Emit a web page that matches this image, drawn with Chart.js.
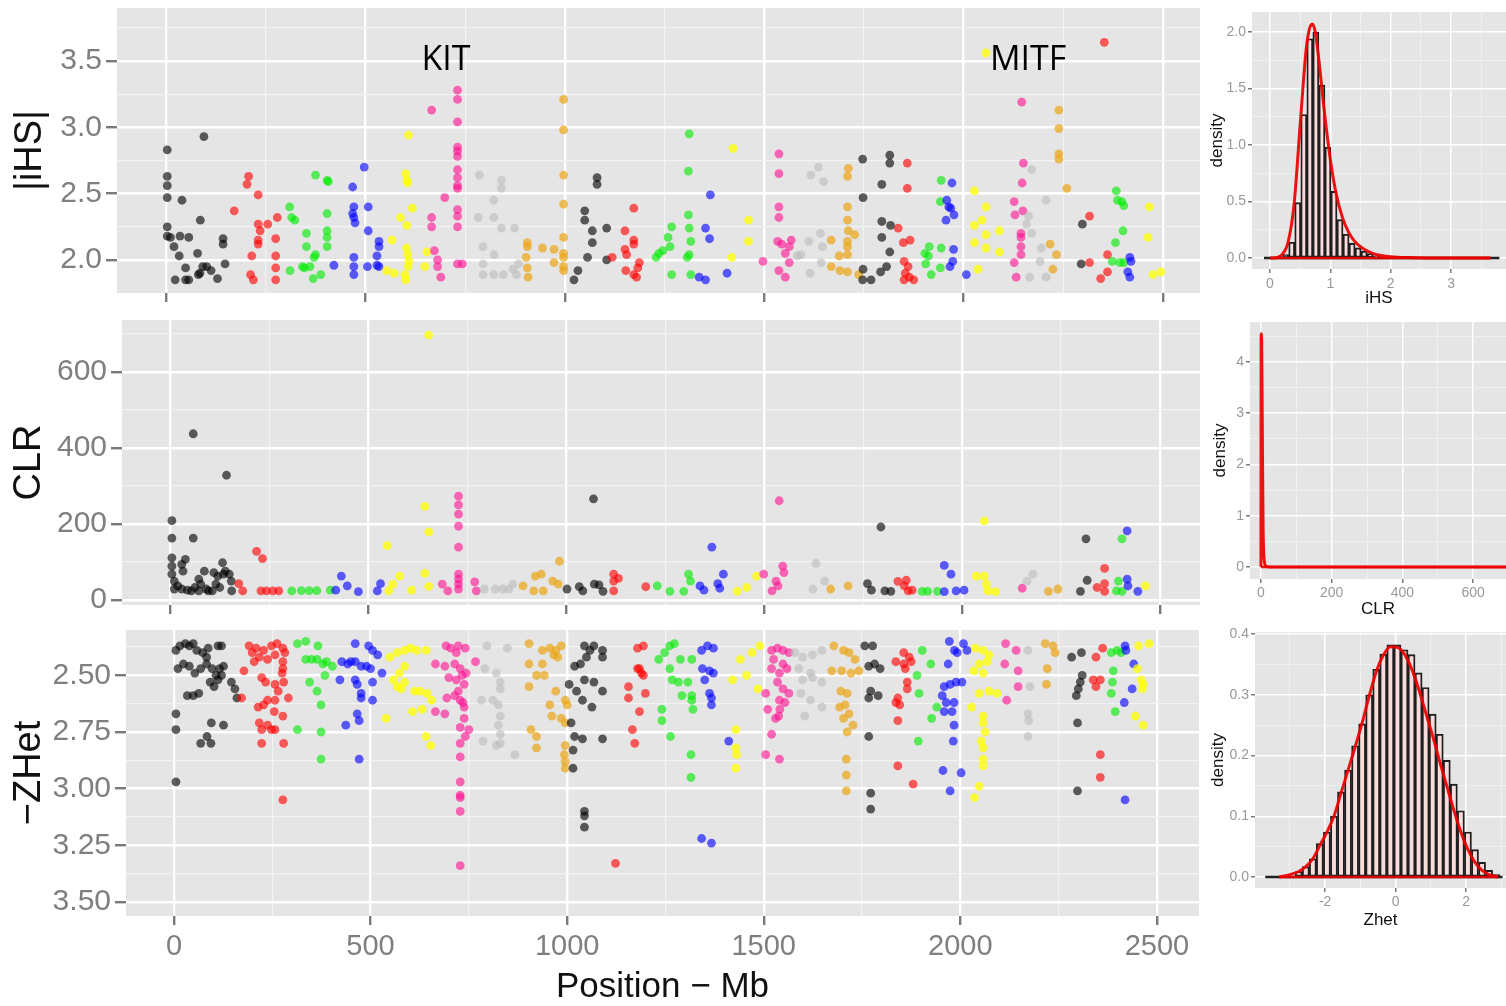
<!DOCTYPE html>
<html>
<head>
<meta charset="utf-8">
<script src="https://cdn.jsdelivr.net/npm/chart.js@4.4.0/dist/chart.umd.min.js"></script>
<style>
  body { margin: 0; background: #fff; width: 1506px; height: 1006px; overflow: hidden; position: relative; }
  canvas { position: absolute; }
</style>
</head>
<body>
<canvas id="ihsChart" width="1210" height="312" style="left:0;top:0"></canvas>
<canvas id="clrChart" width="1210" height="308" style="left:0;top:312px"></canvas>
<canvas id="zhetChart" width="1210" height="386" style="left:0;top:620px"></canvas>
<canvas id="ihsHist" width="301" height="312" style="left:1205px;top:0"></canvas>
<canvas id="clrHist" width="301" height="308" style="left:1205px;top:312px"></canvas>
<canvas id="zhetHist" width="301" height="320" style="left:1205px;top:620px"></canvas>
<script>
// tick values
var posTicks = [0, 500, 1000, 1500, 2000, 2500];
var ihsTicks = [2.0, 2.5, 3.0, 3.5];
var clrTicks = [0, 200, 400, 600];
var zhetTicks = [2.5, 2.75, 3.0, 3.25, 3.5];
var ihsHistXTicks = [0, 1, 2, 3], ihsHistYTicks = [0, 0.5, 1, 1.5, 2];
var clrHistXTicks = [0, 200, 400, 600], clrHistYTicks = [0, 1, 2, 3, 4];
var zhetHistXTicks = [-2, 0, 2], zhetHistYTicks = [0, 0.1, 0.2, 0.3, 0.4];

// gene labels on the |iHS| panel
var geneNames = ['KIT', 'MITF'];
var genePos = [702, 2162];
var geneVal = [3.43, 3.43];

// |iHS| outliers, one list per chromosome: [position Mb, value]
var ihs = [
  [[3,2.83],[3,2.63],[3,2.56],[3,2.47],[40,2.45],[95,2.93],[3,2.25],[3,2.18],[11,2.17],[20,2.10],[33,2.03],[35,2.18],[57,2.17],[86,2.30],[79,2.05],[49,1.94],[23,1.85],[49,1.85],[57,1.85],[81,1.89],[85,1.90],[92,1.95],[102,1.95],[113,1.92],[129,1.86],[143,2.16],[143,2.12],[148,1.97]],
  [[171,2.37],[207,2.63],[203,2.57],[231,2.49],[231,2.27],[236,2.22],[231,2.15],[231,2.12],[255,2.27],[279,2.32],[215,2.03],[212,1.89],[219,1.85],[275,2.16],[275,2.03],[275,1.94],[275,1.85]],
  [[310,2.40],[315,2.32],[323,2.30],[375,2.64],[404,2.60],[407,2.59],[352,2.20],[352,2.10],[375,2.04],[371,2.02],[361,1.95],[347,1.94],[342,1.95],[311,1.92],[369,1.86],[388,1.89],[404,2.35],[404,2.22],[404,2.17],[404,2.10]],
  [[421,1.96],[468,2.55],[471,2.40],[468,2.35],[471,2.32],[474,2.28],[497,2.70],[507,2.40],[507,2.22],[534,2.14],[534,2.10],[529,2.03],[529,1.96],[534,1.95],[471,2.02],[471,1.95],[471,1.89],[505,1.95]],
  [[608,2.94],[601,2.65],[604,2.60],[606,2.58],[618,2.39],[588,2.32],[604,2.26],[567,2.15],[603,2.09],[606,2.04],[609,1.99],[607,1.95],[553,1.92],[572,1.90],[599,1.89],[601,1.85],[649,1.95],[654,2.06]],
  [[666,3.13],[731,3.28],[731,3.21],[731,3.04],[731,2.85],[731,2.82],[731,2.78],[731,2.68],[731,2.62],[731,2.56],[731,2.54],[731,2.38],[731,2.33],[731,2.25],[699,2.47],[666,2.32],[666,2.25],[673,2.07],[681,2.00],[681,1.95],[689,1.87],[731,1.97],[743,1.97]],
  [[786,2.64],[822,2.45],[841,2.60],[841,2.54],[783,2.32],[822,2.32],[841,2.24],[874,2.24],[795,2.10],[823,2.04],[795,1.97],[795,1.89],[822,1.89],[846,1.89],[870,1.93],[884,1.97],[879,1.89]],
  [[997,3.21],[997,2.98],[997,2.64],[997,2.42],[997,2.17],[906,2.13],[906,2.10],[903,2.02],[906,1.94],[908,1.87],[944,2.09],[973,2.08],[973,1.98],[997,2.05],[997,2.02],[997,1.95],[997,1.92]],
  [[1050,2.37],[1050,2.30],[1069,2.22],[1069,2.13],[1057,2.02],[1033,1.92],[1023,1.85],[1081,2.62],[1081,2.57],[1105,2.24],[1105,2.00]],
  [[1173,2.39],[1151,2.22],[1173,2.15],[1173,2.12],[1151,2.08],[1155,2.04],[1119,2.02],[1187,1.98],[1183,1.94],[1153,1.92],[1173,1.89],[1180,1.87]],
  [[1312,2.95],[1310,2.67],[1310,2.34],[1268,2.25],[1259,2.17],[1264,2.10],[1246,2.07],[1236,2.05],[1229,2.02],[1312,2.24],[1316,2.14],[1312,2.04],[1307,2.02],[1268,1.89],[1316,1.89]],
  [[1365,2.49],[1353,2.24],[1363,2.16],[1337,1.87],[1353,1.85],[1407,1.90]],
  [[1422,2.84],[1461,2.30],[1461,2.14],[1419,2.02]],
  [[1537,2.80],[1537,2.65],[1537,2.40],[1537,2.32],[1534,2.14],[1544,2.12],[1553,2.05],[1568,2.15],[1563,2.10],[1497,1.99],[1563,1.98],[1537,1.92],[1553,1.87]],
  [[1636,2.70],[1617,2.64],[1649,2.59],[1641,2.20],[1612,2.14],[1646,2.10],[1592,2.04],[1583,2.03],[1643,1.98],[1615,1.90]],
  [[1711,2.69],[1709,2.63],[1709,2.40],[1709,2.30],[1711,2.22],[1727,2.19],[1709,2.14],[1709,2.10],[1709,2.04],[1688,2.03],[1668,2.15],[1668,1.95],[1690,1.92],[1709,1.91],[1737,1.89]],
  [[1747,2.76],[1815,2.79],[1815,2.73],[1795,2.57],[1748,2.47],[1795,2.29],[1817,2.26],[1795,2.17],[1815,2.06],[1748,1.93],[1747,1.85],[1768,1.85],[1792,1.91],[1807,1.95]],
  [[1859,2.73],[1859,2.54],[1836,2.24],[1849,2.13],[1866,2.15],[1851,1.99],[1861,1.95],[1854,1.90],[1864,1.87],[1875,1.85],[1851,1.85]],
  [[1944,2.60],[1942,2.44],[1914,2.10],[1903,2.05],[1912,2.03],[1944,2.09],[1905,1.97],[1919,1.89],[1942,1.94]],
  [[1971,2.58],[1958,2.45],[1963,2.40],[1968,2.39],[1976,2.34],[1956,2.30],[1975,2.08],[1973,1.99],[1966,1.95],[2007,1.89]],
  [[2056,3.56],[2027,2.52],[2056,2.40],[2046,2.30],[2027,2.26],[2090,2.22],[2056,2.19],[2027,2.13],[2056,2.09],[2036,1.93],[2090,2.06]],
  [[2146,3.19],[2150,2.73],[2147,2.58],[2127,2.44],[2149,2.37],[2129,2.34],[2144,2.20],[2144,2.17],[2144,2.10],[2144,2.04],[2127,1.98],[2132,1.87]],
  [[2171,2.68],[2207,2.45],[2163,2.33],[2158,2.27],[2171,2.20],[2195,2.09],[2192,1.99],[2166,1.87],[2207,1.87]],
  [[2239,3.13],[2239,2.99],[2239,2.80],[2239,2.76],[2259,2.54],[2217,2.12],[2233,2.04],[2224,1.93]],
  [[2298,2.27],[2295,1.97]],
  [[2353,3.64],[2316,2.33],[2361,2.04],[2316,1.98],[2361,1.91],[2344,1.86]],
  [[2383,2.52],[2386,2.45],[2397,2.44],[2402,2.41],[2400,2.22],[2381,2.13],[2373,1.99],[2392,1.98],[2402,1.98]],
  [[2417,2.02],[2420,1.99],[2412,1.91],[2417,1.87]],
  [[2466,2.40],[2463,2.17],[2475,1.89],[2495,1.91]]
];

// CLR outliers per chromosome
var clr = [
  [[58,437],[142,328],[4,209],[4,163],[58,163],[4,111],[4,89],[4,68],[10,50],[29,94],[38,107],[32,76],[19,37],[29,29],[43,26],[53,24],[62,33],[72,55],[86,76],[77,42],[91,29],[106,24],[115,42],[125,33],[134,68],[139,76],[149,68],[154,50],[120,63],[110,72],[132,98],[155,24],[10,29],[72,24],[96,24]],
  [[218,128],[233,109],[173,43],[183,24],[229,24],[243,24],[259,24],[274,24]],
  [[307,24],[331,25],[351,25],[370,25],[404,26]],
  [[432,63],[447,37],[418,26],[475,22],[523,24],[531,43]],
  [[653,696],[643,246],[653,179],[548,143],[643,70],[579,63],[562,42],[610,26],[552,24],[653,36]],
  [[728,273],[728,250],[728,226],[728,194],[728,139],[728,68],[728,55],[728,42],[728,29],[687,42],[701,24],[769,48],[773,24]],
  [[793,29],[821,29],[840,29],[865,42],[855,29]],
  [[983,102],[922,63],[937,68],[918,24],[942,24],[891,37],[966,50],[980,42]],
  [[1069,266],[1002,29],[1033,35],[1042,24],[1071,42],[1083,40],[1093,23]],
  [[1120,68],[1120,50],[1120,24],[1132,57],[1201,35]],
  [[1230,37],[1262,23],[1297,23],[1309,68],[1314,50]],
  [[1368,139],[1338,37],[1348,26],[1383,43],[1397,68],[1388,31]],
  [[1432,23],[1456,33],[1481,63]],
  [[1538,261],[1499,68],[1547,89],[1550,72],[1530,50],[1520,24],[1535,37]],
  [[1631,96],[1653,50],[1623,29]],
  [[1668,29],[1712,37]],
  [[1795,192],[1761,43],[1771,26],[1805,24],[1820,23]],
  [[1838,49],[1859,52],[1864,24],[1874,26],[1854,37]],
  [[1899,23],[1913,23],[1938,23]],
  [[1955,91],[1972,68],[1955,22],[1985,24],[2005,26]],
  [[2056,208],[2036,63],[2056,63],[2061,42],[2066,24],[2085,22]],
  [[2152,31]],
  [[2164,50],[2179,68]],
  [[2218,23],[2242,29]],
  [[2313,161],[2316,52],[2299,23]],
  [[2360,83],[2341,33],[2360,43],[2360,23]],
  [[2404,161],[2395,50],[2404,23],[2390,24]],
  [[2417,182],[2417,55],[2419,37],[2444,23]],
  [[2463,37]]
];

// -ZHet outliers per chromosome
var zhet = [
  [[5,2.39],[15,2.37],[29,2.36],[39,2.37],[49,2.36],[58,2.39],[73,2.40],[83,2.42],[87,2.38],[112,2.37],[121,2.37],[10,2.47],[24,2.45],[39,2.46],[53,2.49],[68,2.47],[83,2.45],[97,2.47],[107,2.50],[116,2.47],[126,2.46],[92,2.53],[102,2.55],[112,2.52],[121,2.50],[146,2.53],[155,2.56],[160,2.60],[34,2.59],[49,2.59],[63,2.58],[5,2.67],[5,2.74],[95,2.71],[126,2.72],[68,2.80],[84,2.77],[94,2.80],[5,2.97]],
  [[191,2.37],[209,2.38],[228,2.39],[248,2.37],[262,2.36],[277,2.38],[282,2.40],[199,2.40],[217,2.42],[238,2.43],[257,2.41],[277,2.44],[277,2.47],[178,2.48],[204,2.44],[223,2.51],[233,2.53],[257,2.54],[275,2.49],[279,2.53],[291,2.60],[265,2.57],[257,2.61],[238,2.61],[228,2.63],[214,2.64],[172,2.60],[255,2.66],[277,2.68],[217,2.71],[238,2.72],[223,2.74],[248,2.74],[257,2.74],[223,2.80],[279,2.80],[277,3.05]],
  [[314,2.36],[335,2.35],[366,2.37],[335,2.43],[350,2.43],[364,2.43],[379,2.45],[388,2.44],[345,2.53],[384,2.50],[364,2.57],[374,2.63],[314,2.74],[374,2.75],[374,2.87],[403,2.46]],
  [[461,2.36],[495,2.37],[505,2.39],[518,2.41],[450,2.44],[461,2.44],[476,2.46],[490,2.46],[500,2.47],[427,2.44],[442,2.45],[422,2.52],[461,2.52],[466,2.54],[505,2.53],[529,2.49],[476,2.58],[476,2.60],[505,2.61],[466,2.67],[471,2.70],[437,2.72],[471,2.87]],
  [[549,2.42],[568,2.40],[587,2.39],[602,2.38],[617,2.39],[641,2.39],[558,2.52],[568,2.55],[578,2.56],[587,2.53],[612,2.57],[626,2.57],[644,2.58],[573,2.49],[587,2.46],[539,2.69],[607,2.66],[631,2.65],[641,2.77],[653,2.81],[655,2.61]],
  [[692,2.37],[704,2.38],[723,2.37],[741,2.38],[718,2.40],[665,2.45],[689,2.46],[714,2.45],[728,2.47],[733,2.50],[743,2.49],[699,2.51],[718,2.52],[738,2.54],[694,2.60],[714,2.59],[728,2.61],[735,2.62],[738,2.64],[738,2.69],[665,2.66],[689,2.67],[723,2.57],[767,2.44],[728,2.73],[750,2.74],[728,2.80],[728,2.86],[728,2.97],[728,3.03],[728,3.04],[728,3.10],[728,3.34],[741,2.77]],
  [[796,2.37],[848,2.38],[791,2.47],[820,2.49],[830,2.53],[811,2.61],[830,2.56],[825,2.63],[830,2.68],[825,2.72],[830,2.76],[786,2.79],[820,2.81],[830,2.80],[867,2.85],[782,2.61]],
  [[903,2.36],[937,2.39],[956,2.38],[971,2.39],[985,2.37],[903,2.45],[937,2.45],[966,2.41],[976,2.42],[922,2.50],[942,2.50],[903,2.55],[971,2.57],[995,2.61],[956,2.63],[961,2.68],[985,2.69],[908,2.74],[922,2.77],[995,2.71],[995,2.81],[993,2.85],[995,2.88],[995,2.91],[922,2.82],[1000,2.63]],
  [[1044,2.37],[1058,2.39],[1049,2.42],[1068,2.37],[1034,2.45],[1019,2.46],[1044,2.52],[1068,2.53],[1005,2.54],[1024,2.57],[1039,2.61],[1063,2.64],[1010,2.71],[1019,2.77],[1039,2.78],[1015,2.83],[1015,2.91],[1044,3.10],[1044,3.12],[1044,3.17],[1090,2.39],[1090,2.42],[1090,2.57],[1090,2.78]],
  [[1179,2.38],[1194,2.37],[1179,2.47],[1184,2.47],[1189,2.49],[1194,2.50],[1156,2.55],[1156,2.60],[1199,2.58],[1184,2.66],[1166,2.74],[1172,2.80],[1123,3.33]],
  [[1233,2.43],[1248,2.40],[1261,2.37],[1273,2.36],[1261,2.47],[1267,2.52],[1283,2.53],[1307,2.53],[1292,2.59],[1317,2.59],[1288,2.43],[1317,2.43],[1241,2.65],[1241,2.70],[1263,2.77],[1317,2.61],[1320,2.65],[1315,2.85],[1315,2.95]],
  [[1342,2.39],[1357,2.37],[1372,2.38],[1344,2.47],[1362,2.48],[1372,2.49],[1350,2.52],[1362,2.58],[1367,2.60],[1367,2.63],[1411,2.79],[1342,3.22],[1367,3.24]],
  [[1441,2.43],[1470,2.40],[1490,2.37],[1421,2.52],[1456,2.50],[1485,2.56],[1429,2.74],[1429,2.82],[1431,2.85],[1429,2.91]],
  [[1520,2.39],[1535,2.38],[1549,2.39],[1564,2.40],[1525,2.43],[1549,2.45],[1520,2.47],[1540,2.49],[1559,2.47],[1535,2.53],[1549,2.56],[1564,2.58],[1505,2.58],[1540,2.61],[1554,2.62],[1541,2.65],[1538,2.68],[1510,2.65],[1520,2.76],[1505,2.85],[1540,2.87],[1530,2.69]],
  [[1579,2.40],[1599,2.42],[1624,2.41],[1648,2.39],[1589,2.47],[1619,2.49],[1599,2.52],[1624,2.51],[1648,2.53],[1594,2.58],[1619,2.61],[1648,2.64],[1604,2.68]],
  [[1678,2.37],[1703,2.39],[1717,2.40],[1732,2.43],[1673,2.48],[1698,2.48],[1722,2.49],[1742,2.48],[1696,2.57],[1712,2.58],[1707,2.63],[1693,2.64],[1717,2.67],[1703,2.69],[1727,2.72],[1712,2.75],[1710,2.87],[1710,2.94],[1710,3.01]],
  [[1757,2.37],[1777,2.37],[1767,2.46],[1782,2.45],[1796,2.47],[1772,2.57],[1767,2.60],[1791,2.59],[1767,2.77],[1772,3.02],[1772,3.09]],
  [[1856,2.40],[1870,2.42],[1836,2.44],[1856,2.45],[1875,2.44],[1860,2.47],[1865,2.53],[1865,2.56],[1841,2.60],[1846,2.63],[1836,2.62],[1841,2.70],[1841,2.90],[1880,2.98]],
  [[1903,2.39],[1925,2.45],[1890,2.50],[1895,2.58],[1940,2.64],[1927,2.69],[1893,2.79]],
  [[1972,2.35],[1985,2.39],[2008,2.36],[2017,2.39],[1969,2.45],[1992,2.40],[1959,2.55],[1974,2.54],[1989,2.53],[2004,2.53],[1954,2.59],[1964,2.62],[1984,2.62],[1959,2.66],[1979,2.66],[1984,2.72],[1982,2.79],[1956,2.92],[2002,2.93],[1974,3.01]],
  [[2038,2.38],[2058,2.39],[2073,2.41],[2048,2.45],[2068,2.44],[2034,2.48],[2058,2.49],[2048,2.58],[2073,2.57],[2029,2.64],[2093,2.58],[2058,2.68],[2058,2.71],[2063,2.75],[2053,2.79],[2058,2.82],[2058,2.87],[2058,2.90],[2048,2.99],[2036,3.04]],
  [[2115,2.36],[2142,2.39],[2113,2.45],[2147,2.48],[2147,2.55],[2118,2.61]],
  [[2172,2.39],[2177,2.55],[2172,2.67],[2174,2.70],[2172,2.77]],
  [[2216,2.36],[2236,2.37],[2241,2.40],[2221,2.47],[2219,2.54]],
  [[2283,2.42],[2308,2.40],[2310,2.50],[2305,2.53],[2300,2.56],[2295,2.59],[2298,2.71],[2298,3.01]],
  [[2345,2.42],[2362,2.38],[2338,2.52],[2345,2.55],[2356,2.52],[2356,2.85],[2356,2.95]],
  [[2384,2.40],[2399,2.39],[2409,2.40],[2389,2.48],[2387,2.53],[2384,2.58],[2394,2.66]],
  [[2419,2.37],[2421,2.39],[2441,2.45],[2437,2.56],[2417,2.62],[2419,3.05]],
  [[2453,2.37],[2480,2.36],[2450,2.47],[2460,2.52],[2465,2.54],[2463,2.56],[2445,2.68],[2465,2.72]]
];

// genome-wide distributions (histogram bins + density curve)
var ihsBinMid = [0.26,0.36,0.46,0.56,0.66,0.76,0.86,0.96,1.06,1.16,1.26,1.36,1.46,1.56,1.66,1.76,1.86,1.96];
var ihsBinDens = [0.03,0.14,0.49,1.27,1.94,2.0,1.53,0.98,0.59,0.34,0.21,0.13,0.09,0.06,0.04,0.02,0.01,0.005];
var ihsDensX = [0,0.1,0.2,0.3,0.4,0.5,0.6,0.65,0.7,0.75,0.8,0.9,1.0,1.1,1.2,1.3,1.4,1.5,1.6,1.7,1.8,2.0,2.3,2.7,3.2,3.65];
var ihsDensY = [0,0.003,0.03,0.14,0.48,1.18,1.85,2.02,2.07,2.0,1.8,1.3,0.87,0.56,0.36,0.23,0.15,0.1,0.065,0.042,0.027,0.012,0.004,0.001,0,0];
var ihsRange = [-0.1, 3.8];

var clrDensX = [0,0.5,2,4,6,9,14,25,700];
var clrDensY = [0,4.55,4.4,2.5,0.8,0.15,0.02,0,0];

var zhetBinMid = [-2.75,-2.55,-2.35,-2.15,-1.95,-1.75,-1.55,-1.35,-1.15,-0.95,-0.75,-0.55,-0.35,-0.15,0.05,0.25,0.45,0.65,0.85,1.05,1.25,1.45,1.65,1.85,2.05,2.25,2.45,2.65,2.85];
var zhetBinDens = [0.009,0.017,0.03,0.055,0.074,0.1,0.14,0.176,0.216,0.252,0.3,0.342,0.367,0.382,0.382,0.374,0.366,0.336,0.312,0.268,0.235,0.192,0.153,0.109,0.074,0.045,0.024,0.011,0.004];
var zhetDensX = [-3.3,-3.0,-2.75,-2.55,-2.35,-2.15,-1.95,-1.75,-1.55,-1.35,-1.15,-0.95,-0.75,-0.55,-0.35,-0.15,0.05,0.25,0.45,0.65,0.85,1.05,1.25,1.45,1.65,1.85,2.05,2.25,2.45,2.65,2.9];
var zhetDensY = [0,0.004,0.009,0.017,0.03,0.052,0.074,0.1,0.138,0.176,0.214,0.254,0.298,0.338,0.365,0.379,0.378,0.367,0.343,0.31,0.271,0.232,0.19,0.15,0.11,0.074,0.045,0.024,0.011,0.004,0];
var zhetRange = [-3.7, 3.03];

var chrColors = ['rgba(0,0,0,0.62)', 'rgba(255,0,0,0.62)', 'rgba(0,235,0,0.62)', 'rgba(0,0,255,0.62)',
                 'rgba(255,255,0,0.75)', 'rgba(255,20,147,0.62)', 'rgba(190,190,190,0.65)', 'rgba(235,165,20,0.7)'];
var FONT = '"Liberation Sans", Arial, sans-serif';

var panelBg = {
  id: 'panelBg',
  beforeDraw: function (chart) {
    var a = chart.chartArea, ctx = chart.ctx;
    ctx.save();
    ctx.fillStyle = '#e5e5e5';
    ctx.fillRect(a.left, a.top, a.right - a.left, a.bottom - a.top);
    ctx.restore();
  }
};

var geneLabels = {
  id: 'geneLabels',
  afterDatasetsDraw: function (chart) {
    var ctx = chart.ctx;
    ctx.save();
    ctx.font = '34px "Open Sans", "DejaVu Sans", sans-serif';
    ctx.fillStyle = '#000';
    ctx.textAlign = 'center';
    ctx.textBaseline = 'alphabetic';
    geneNames.forEach(function (g, i) {
      ctx.fillText(g, chart.scales.x.getPixelForValue(genePos[i]), chart.scales.y.getPixelForValue(geneVal[i]));
    });
    ctx.restore();
  }
};

// o: min, max, ticks, position, size, dec, labels, tickLength, pad, fontSize, major, minor, title
function axis(o) {
  var majors = o.ticks, half = (majors[1] - majors[0]) / 2, all = [];
  var start = majors[0];
  while (start - half >= o.min) start -= half;
  for (var v = start; v <= o.max + 1e-9; v += half) all.push(Math.round(v * 1e6) / 1e6);
  function isMajor(v) { return majors.some(function (m) { return Math.abs(m - v) < 1e-6; }); }
  var cfg = {
    type: 'linear', position: o.position, min: o.min, max: o.max, reverse: !!o.reverse,
    afterBuildTicks: function (s) { s.ticks = all.map(function (v) { return { value: v }; }); },
    afterFit: function (s) {
      if (o.position === 'left') s.width = o.size; else s.height = o.size;
      s.paddingTop = 0; s.paddingBottom = 0; s.paddingLeft = 0; s.paddingRight = 0;
    },
    border: { display: false },
    grid: {
      color: function (c) { return isMajor(c.tick.value) ? '#ffffff' : '#f3f3f3'; },
      lineWidth: function (c) { return isMajor(c.tick.value) ? o.major : o.minor; },
      tickColor: function (c) { return isMajor(c.tick.value) ? '#7a7a7a' : 'rgba(0,0,0,0)'; },
      tickLength: o.tickLength, tickWidth: o.major, drawTicks: true, offset: false
    },
    ticks: {
      autoSkip: false, maxRotation: 0, minRotation: 0, padding: o.pad, color: o.color || '#7f7f7f',
      font: { family: FONT, size: o.fontSize, lineHeight: 1.2 },
      callback: function (v) { return (o.labels && isMajor(v)) ? v.toFixed(o.dec) : ''; }
    },
    offset: false
  };
  if (o.title) {
    cfg.title = {
      display: true, text: o.title.text, color: '#111',
      font: { family: FONT, size: o.title.size, lineHeight: 1 },
      padding: o.title.pad
    };
  }
  return cfg;
}

function scatterChart(id, series, xAx, yAx, pad, plugins) {
  var datasets = series.map(function (pts, i) {
    return {
      data: pts.map(function (p) { return { x: p[0], y: p[1] }; }),
      backgroundColor: chrColors[i % 8], borderWidth: 0, pointRadius: 4.4, order: -i
    };
  });
  return new Chart(document.getElementById(id), {
    type: 'scatter',
    data: { datasets: datasets },
    options: {
      responsive: false, animation: false, events: [],
      layout: { padding: pad },
      plugins: { legend: { display: false }, tooltip: { enabled: false } },
      scales: { x: axis(xAx), y: axis(yAx) }
    },
    plugins: [panelBg].concat(plugins || [])
  });
}

function histChart(id, mids, dens, densX, densY, blackRange, xAx, yAx, pad) {
  var datasets = [];
  if (mids) {
    datasets.push({
      type: 'bar', data: mids.map(function (m, i) { return { x: m, y: dens[i] }; }),
      backgroundColor: '#f8dcdc', borderColor: '#1e1e1e', borderWidth: 1.9, borderSkipped: false,
      barPercentage: 1, categoryPercentage: 1, grouped: false, order: 4
    });
  }
  if (blackRange) {
    datasets.push({
      type: 'line', data: [{ x: blackRange[0], y: 0 }, { x: blackRange[1], y: 0 }],
      borderColor: '#222', borderWidth: 2.5, pointRadius: 0, order: 3
    });
  }
  datasets.push({
    type: 'line', data: densX.map(function (x, i) { return { x: x, y: densY[i] }; }),
    borderColor: 'rgba(235,0,0,0.92)', borderWidth: 3, pointRadius: 0, cubicInterpolationMode: 'monotone', order: 2
  });
  datasets.push({
    type: 'line', data: [{ x: densX[0], y: 0 }, { x: densX[densX.length - 1], y: 0 }],
    borderColor: 'rgba(235,0,0,0.92)', borderWidth: 2.5, pointRadius: 0, order: 1
  });
  return new Chart(document.getElementById(id), {
    type: 'bar',
    data: { datasets: datasets },
    options: {
      responsive: false, animation: false, events: [],
      layout: { padding: pad },
      plugins: { legend: { display: false }, tooltip: { enabled: false } },
      scales: { x: axis(xAx), y: axis(yAx) }
    },
    plugins: [panelBg]
  });
}

// main scatter panels
scatterChart('ihsChart', ihs,
  { min: -123, max: 2593, ticks: posTicks, position: 'bottom', size: 19, dec: 0, labels: false, tickLength: 9, pad: 0, fontSize: 29, major: 2.4, minor: 1.2 },
  { min: 1.751, max: 3.899, ticks: ihsTicks, position: 'left', size: 117, dec: 1, labels: true, tickLength: 11, pad: 4, fontSize: 30, major: 2.4, minor: 1.2,
    title: { text: '|iHS|', size: 38, pad: { top: 12, bottom: 0 } } },
  { top: 8, right: 10, left: 0, bottom: 0 }, [geneLabels]);

scatterChart('clrChart', clr,
  { min: -122, max: 2601, ticks: posTicks, position: 'bottom', size: 15, dec: 0, labels: false, tickLength: 9, pad: 0, fontSize: 29, major: 2.4, minor: 1.2 },
  { min: -13, max: 736, ticks: clrTicks, position: 'left', size: 122, dec: 0, labels: true, tickLength: 11, pad: 4, fontSize: 30, major: 2.4, minor: 1.2,
    title: { text: 'CLR', size: 38, pad: { top: 11, bottom: 0 } } },
  { top: 8, right: 10, left: 0, bottom: 0 });

scatterChart('zhetChart', zhet,
  { min: -122, max: 2607, ticks: posTicks, position: 'bottom', size: 90, dec: 0, labels: true, tickLength: 9, pad: 5, fontSize: 29, major: 2.4, minor: 1.2,
    title: { text: 'Position \u2212 Mb', size: 35, pad: { top: 0, bottom: 1 } } },
  { min: 2.30, max: 3.562, reverse: true, ticks: zhetTicks, position: 'left', size: 126, dec: 2, labels: true, tickLength: 11, pad: 4, fontSize: 30, major: 2.4, minor: 1.2,
    title: { text: '\u2212ZHet', size: 38, pad: { top: 11, bottom: 0 } } },
  { top: 10, right: 11, left: 0, bottom: 0 });

// distribution panels
histChart('ihsHist', ihsBinMid, ihsBinDens, ihsDensX, ihsDensY, ihsRange,
  { min: -0.298, max: 3.91, ticks: ihsHistXTicks, position: 'bottom', size: 43, dec: 0, labels: true, tickLength: 4, pad: 3, fontSize: 14, color: '#999', major: 1.5, minor: 0.8,
    title: { text: 'iHS', size: 17, pad: { top: 0, bottom: 5 } } },
  { min: -0.097, max: 2.177, ticks: ihsHistYTicks, position: 'left', size: 47, dec: 1, labels: true, tickLength: 4, pad: 2, fontSize: 14, color: '#999', major: 1.5, minor: 0.8,
    title: { text: 'density', size: 17, pad: { top: 4, bottom: 0 } } },
  { top: 12, right: 0, left: 0, bottom: 0 });

histChart('clrHist', null, null, clrDensX, clrDensY, null,
  { min: -31, max: 693, ticks: clrHistXTicks, position: 'bottom', size: 41, dec: 0, labels: true, tickLength: 4, pad: 2, fontSize: 14, color: '#999', major: 1.5, minor: 0.8,
    title: { text: 'CLR', size: 17, pad: { top: 0, bottom: 2 } } },
  { min: -0.234, max: 4.78, ticks: clrHistYTicks, position: 'left', size: 45, dec: 0, labels: true, tickLength: 4, pad: 2, fontSize: 14, color: '#999', major: 1.5, minor: 0.8,
    title: { text: 'density', size: 17, pad: { top: 7, bottom: 0 } } },
  { top: 10, right: 0, left: 0, bottom: 0 });

histChart('zhetHist', zhetBinMid, zhetBinDens, zhetDensX, zhetDensY, zhetRange,
  { min: -3.99, max: 3.13, ticks: zhetHistXTicks, position: 'bottom', size: 52, dec: 0, labels: true, tickLength: 4, pad: 2, fontSize: 14, color: '#999', major: 1.5, minor: 0.8,
    title: { text: 'Zhet', size: 17, pad: { top: 0, bottom: 11 } } },
  { min: -0.0181, max: 0.4033, ticks: zhetHistYTicks, position: 'left', size: 50, dec: 1, labels: true, tickLength: 4, pad: 2, fontSize: 14, color: '#999', major: 1.5, minor: 0.8,
    title: { text: 'density', size: 17, pad: { top: 5, bottom: 0 } } },
  { top: 12, right: 0, left: 0, bottom: 0 });
</script>
</body>
</html>
